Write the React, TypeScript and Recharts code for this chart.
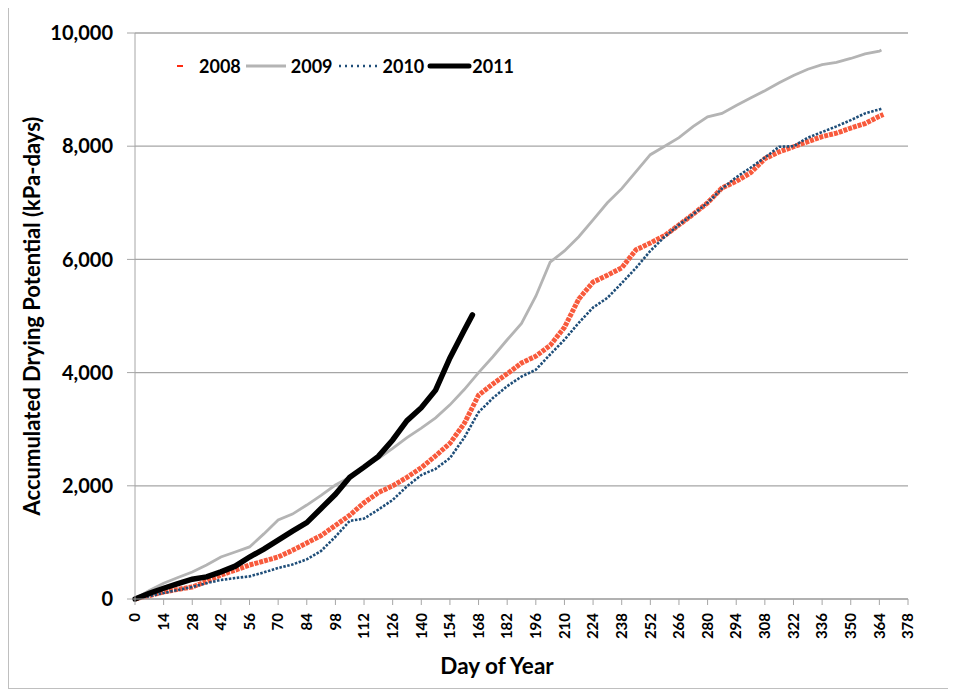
import { CartesianGrid, Line, LineChart, XAxis, YAxis } from "recharts";

// day-of-year sample points (weekly)
const days = [
  0, 7, 14, 21, 28, 35, 42, 49, 56, 63, 70, 77, 84, 91, 98, 105, 112, 119, 126, 133, 140, 147, 154,
  161, 168, 175, 182, 189, 196, 203, 210, 217, 224, 231, 238, 245, 252, 259, 266, 273, 280, 287,
  294, 301, 308, 315, 322, 329, 336, 343, 350, 357, 364,
];

const y2008 = [
  0, 60, 124, 170, 212, 310, 424, 510, 600, 670, 742, 860, 990, 1120, 1300, 1480, 1700, 1880, 2000,
  2150, 2320, 2530, 2750, 3100, 3600, 3800, 3980, 4170, 4290, 4480, 4800, 5300, 5600, 5720, 5850,
  6170, 6290, 6420, 6610, 6800, 7000, 7260, 7380, 7530, 7780, 7900, 7990, 8080, 8170, 8230, 8320,
  8400, 8530,
];
const y2009 = [
  0, 150, 280, 380, 477, 600, 742, 830, 920, 1150, 1396, 1500, 1660, 1830, 2014, 2150, 2330, 2480,
  2660, 2850, 3020, 3200, 3430, 3700, 4000, 4280, 4580, 4870, 5350, 5950, 6150, 6400, 6700, 7000,
  7250, 7550, 7850, 8000, 8150, 8350, 8520, 8580, 8720, 8850, 8980, 9120, 9250, 9360, 9440, 9480,
  9550, 9630, 9680,
];
const y2010 = [
  0, 50, 106, 160, 212, 280, 336, 370, 400, 470, 548, 610, 700, 850, 1100, 1380, 1420, 1580, 1750,
  1990, 2190, 2300, 2490, 2850, 3300, 3550, 3760, 3930, 4050, 4320, 4580, 4880, 5150, 5320, 5580,
  5850, 6150, 6400, 6610, 6800, 7000, 7250, 7450, 7620, 7800, 7990, 8000, 8150, 8250, 8350, 8460,
  8580, 8650,
];
const y2011 = [
  0, 100, 190, 270, 350, 390, 480, 580, 742, 880, 1040, 1200, 1350, 1600, 1850, 2150, 2330, 2520,
  2810, 3150, 3380, 3690, 4260, 4750,
];

// last day of each record
const end2008 = { day: 366, value: 8560 };
const end2009 = { day: 365, value: 9700 };
const end2010 = { day: 365, value: 8660 };
const end2011 = { day: 165, value: 5020 };

const xTicks = [
  0, 14, 28, 42, 56, 70, 84, 98, 112, 126, 140, 154, 168, 182, 196, 210, 224, 238, 252, 266, 280,
  294, 308, 322, 336, 350, 364, 378,
];
const yTicks = [0, 2000, 4000, 6000, 8000, 10000];

const toSeries = (vals: number[], end: { day: number; value: number }) => [
  ...vals.map((v, i) => ({ day: days[i], value: v })),
  end,
];

const s2008 = toSeries(y2008, end2008);
const s2009 = toSeries(y2009, end2009);
const s2010 = toSeries(y2010, end2010);
const s2011 = toSeries(y2011, end2011);

const FONT = "Lato, 'Open Sans', sans-serif";
const AXIS = "#a6a6a6";

function DayTick({ x, y, payload }: any) {
  return (
    <text
      x={x}
      y={y}
      transform={`rotate(-90 ${x} ${y})`}
      textAnchor="end"
      dx={-6}
      dy="0.35em"
      fontFamily={FONT}
      fontWeight={700}
      fontSize={15}
      fill="#000"
    >
      {payload.value}
    </text>
  );
}

function Legend() {
  const txt: React.CSSProperties = { fontFamily: FONT, fontWeight: 700, fontSize: 18, color: "#000" };
  return (
    <div style={{ position: "absolute", left: 160, top: 48, display: "flex", alignItems: "center", height: 24 }}>
      <svg width={30} height={24}>
        <rect x={8} y={11} width={6} height={2} fill="#ff2a10" />
      </svg>
      <span style={txt}>2008</span>
      <svg width={50} height={24}>
        <line x1={5} x2={45} y1={12} y2={12} stroke="#b4b4b4" strokeWidth={3} />
      </svg>
      <span style={txt}>2009</span>
      <svg width={50} height={24}>
        <line x1={6} x2={44} y1={12} y2={12} stroke="#1f4e79" strokeWidth={2.5} strokeDasharray="2 4" />
      </svg>
      <span style={txt}>2010</span>
      <svg width={48} height={24}>
        <line x1={6} x2={45} y1={12} y2={12} stroke="#000" strokeWidth={5} strokeLinecap="round" />
      </svg>
      <span style={txt}>2011</span>
    </div>
  );
}

export default function App() {
  return (
    <div
      style={{
        position: "relative",
        width: 939,
        height: 682,
        marginTop: -3,
        border: "1px solid #bfbfbf",
        background: "#fff",
      }}
    >
      <LineChart width={939} height={682} margin={{ top: 27, right: 40, bottom: 0, left: 0 }}>
        <CartesianGrid horizontal vertical={false} stroke={AXIS} strokeWidth={1.3} />
        <XAxis
          dataKey="day"
          type="number"
          domain={[0, 378]}
          ticks={xTicks}
          interval={0}
          height={89}
          allowDuplicatedCategory={false}
          stroke={AXIS}
          tickSize={6}
          tick={<DayTick />}
        />
        <YAxis
          type="number"
          domain={[0, 10000]}
          ticks={yTicks}
          width={126}
          stroke={AXIS}
          tickSize={8}
          tickMargin={14}
          tickFormatter={(v: number) => v.toLocaleString("en-US")}
          tick={{ fontFamily: FONT, fontWeight: 700, fontSize: 20, fill: "#000" }}
        />
        <Line
          data={s2008}
          dataKey="value"
          type="linear"
          stroke="#f85a3c"
          strokeWidth={5}
          strokeDasharray="4 1"
          dot={false}
          isAnimationActive={false}
        />
        <Line
          data={s2009}
          dataKey="value"
          type="linear"
          stroke="#b4b4b4"
          strokeWidth={2.8}
          dot={false}
          isAnimationActive={false}
        />
        <Line
          data={s2010}
          dataKey="value"
          type="linear"
          stroke="#1f4e79"
          strokeWidth={2.6}
          strokeDasharray="2.5 1.5"
          dot={false}
          isAnimationActive={false}
        />
        <Line
          data={s2011}
          dataKey="value"
          type="linear"
          stroke="#000"
          strokeWidth={5.5}
          strokeLinecap="round"
          dot={false}
          isAnimationActive={false}
        />
      </LineChart>
      <Legend />
      <div
        style={{
          position: "absolute",
          left: 22,
          top: 310,
          transform: "translate(-50%, -50%) rotate(-90deg)",
          whiteSpace: "nowrap",
          fontFamily: FONT,
          fontWeight: 700,
          fontSize: 22,
        }}
      >
        Accumulated Drying Potential (kPa-days)
      </div>
      <div
        style={{
          position: "absolute",
          left: 488,
          top: 659,
          transform: "translate(-50%, -50%)",
          whiteSpace: "nowrap",
          fontFamily: FONT,
          fontWeight: 700,
          fontSize: 22.5,
        }}
      >
        Day of Year
      </div>
    </div>
  );
}
